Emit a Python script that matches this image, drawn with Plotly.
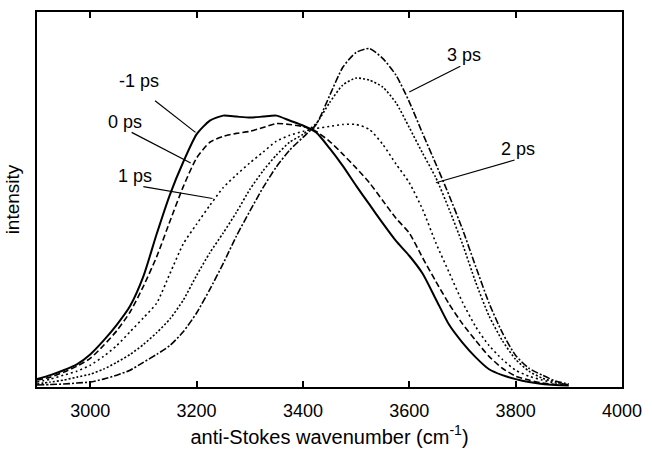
import plotly.graph_objects as go

wavenumber = [2900, 2925, 2950, 2975, 3000, 3025, 3050, 3075, 3100, 3125,
              3150, 3175, 3200, 3225, 3250, 3275, 3300, 3325, 3350, 3375,
              3400, 3425, 3450, 3475, 3500, 3525, 3550, 3575, 3600, 3625,
              3650, 3675, 3700, 3725, 3750, 3775, 3800, 3825, 3850, 3875, 3900]

int_m1ps = [8, 12, 17, 23, 33, 47, 63, 82, 112, 155,
            195, 228, 256, 270, 275, 274, 273, 274, 275, 270,
            265, 258, 242, 224, 204, 185, 166, 148, 133, 115,
            89, 63, 45, 30, 18, 12, 8, 5, 3, 2, 1.5]
int_0ps = [7, 10, 15, 21, 29, 42, 57, 76, 102, 132,
           168, 203, 232, 248, 254, 257, 259, 263, 267, 266,
           264, 259, 249, 236, 222, 207, 189, 171, 156, 131,
           107, 84, 64, 47, 31, 19, 11, 7, 4, 2.5, 1.5]
int_1ps = [5, 8, 12, 16, 22, 31, 42, 56, 70, 85,
           115, 145, 165, 184, 202, 215, 227, 238, 249, 255,
           259, 262, 264, 266, 266, 261, 246, 226, 207, 180,
           146, 116, 86, 61, 42, 28, 17, 11, 7, 4, 2]
int_2ps = [3, 5, 7, 10, 13, 18, 25, 33, 43, 55,
           69, 88, 113, 136, 156, 177, 200, 219, 235, 248,
           256, 267, 288, 306, 313, 311, 304, 288, 263, 237,
           212, 180, 145, 106, 72, 47, 28, 16, 9, 5, 2]
int_3ps = [2, 2.5, 3, 4, 5, 8, 12, 17, 25, 33,
           42, 56, 75, 99, 125, 153, 178, 202, 223, 240,
           253, 266, 295, 324, 339, 343, 333, 316, 289, 257,
           226, 194, 160, 122, 85, 55, 32, 19, 12, 6, 3]

series_names = ["-1 ps", "0 ps", "1 ps", "2 ps", "3 ps"]
series_values = [int_m1ps, int_0ps, int_1ps, int_2ps, int_3ps]
series_dash = ["solid", "6px,3px", "2px,3px", "2px,2px", "7px,2px,2px,2px"]
series_width = [2, 1.6, 1.6, 1.6, 1.6]

x_ticks = [3000, 3200, 3400, 3600, 3800, 4000]

# label text position (x, y) and leader line (x0, y0, x1, y1) in data units
label_pos = {
    "-1 ps": (3091, 310, 3122, 290, 3198, 258),
    "0 ps": (3065, 269, 3078, 258, 3189, 227),
    "1 ps": (3085, 214, 3100, 203, 3230, 191),
    "2 ps": (3805, 241, 3798, 230, 3650, 207),
    "3 ps": (3702, 336, 3696, 325, 3600, 299),
}

FONT = "Liberation Sans, Arial, Helvetica, sans-serif"

fig = go.Figure()
for name, vals, dash, w in zip(series_names, series_values, series_dash, series_width):
    fig.add_trace(go.Scatter(
        x=wavenumber, y=vals, mode="lines", name=name,
        line=dict(color="black", width=w, dash=dash, shape="spline", smoothing=0.6),
        showlegend=False,
    ))

for name, (tx, ty, x0, y0, x1, y1) in label_pos.items():
    fig.add_annotation(x=tx, y=ty, text=name, showarrow=False,
                       font=dict(family=FONT, size=18, color="black"),
                       xanchor="center", yanchor="middle")
    fig.add_shape(type="line", x0=x0, y0=y0, x1=x1, y1=y1,
                  line=dict(color="black", width=1.2), layer="above")

fig.update_layout(
    width=652, height=455,
    margin=dict(l=37, r=22, t=10, b=65),
    paper_bgcolor="white", plot_bgcolor="white",
    font=dict(family=FONT, size=18, color="black"),
    xaxis=dict(
        range=[2900, 4000], tickvals=x_ticks, ticktext=[str(t) for t in x_ticks],
        ticks="inside", ticklen=6, tickwidth=1.5, tickcolor="black",
        showline=True, linecolor="black", linewidth=2, mirror="ticks",
        showgrid=False, zeroline=False,
        tickfont=dict(family=FONT, size=18),
        ticklabelstandoff=6,
        title=dict(text="anti-Stokes wavenumber (cm<sup>-1</sup>)", font=dict(family=FONT, size=20), standoff=10),
    ),
    yaxis=dict(
        range=[0, 380], showticklabels=False, ticks="",
        showline=True, linecolor="black", linewidth=2, mirror=True,
        showgrid=False, zeroline=False,
        title=dict(text="intensity", font=dict(family=FONT, size=19), standoff=10),
    ),
)

fig.write_html("out.html")
